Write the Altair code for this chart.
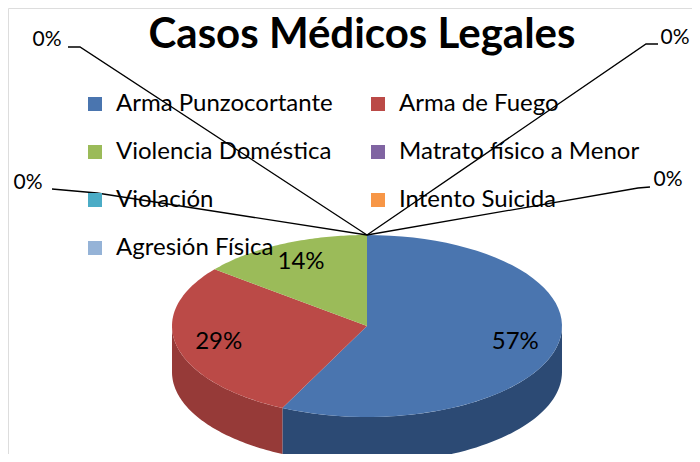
import altair as alt
import pandas as pd

# ---- data ----
title_text = ["Casos Médicos Legales"]
categories = ["Arma Punzocortante", "Arma de Fuego", "Violencia Doméstica",
              "Matrato físico a Menor", "Violación", "Intento Suicida", "Agresión Física"]
values = [4, 2, 1, 0, 0, 0, 0]

# ---- styles / layout ----
top_colors = ["#4A75AF", "#BB4A47", "#9BBB59", "#8064A2", "#4BACC6", "#F79646", "#95B3D7"]
side_colors = ["#2C4A74", "#963A38", "#6F8A3C", "#5C4878", "#357E92", "#B86C30", "#6C84A3"]
CX, CY, RX, RY, DEPTH = 367, 326, 195, 91, 46
N = 60
LABEL_R = 0.78
FONT = "Lato"
TITLE_X, TITLE_Y = 362, 35

# leader-line layout for the zero slices (page pixels)
label_x = [47, 675, 28, 668]
label_y = [40, 38, 183, 180]
elbow_x = [80, 646, 97, 638]
elbow_y = [47, 44, 193, 188]
end_x = [68, 658, 52, 650]
end_y = [47, 44, 189, 187]

df = pd.DataFrame({"cat": categories, "val": values, "k": list(range(len(categories)))})
zero_cats = [c for c, v in zip(categories, values) if v == 0]
pos_df = pd.DataFrame({"cat": zero_cats, "lx": label_x, "ly": label_y,
                       "kx": elbow_x, "ky": elbow_y, "ex": end_x, "ey": end_y})
title_df = pd.DataFrame({"title": title_text})

xs = alt.Scale(domain=[0, 700], range=[-8, 692], zero=False, nice=False)
ys = alt.Scale(domain=[0, 462], range=[-8, 454], zero=False, nice=False)
X = alt.X("px:Q", scale=xs, axis=None)
Y = alt.Y("py:Q", scale=ys, axis=None)

base = alt.Chart(df).transform_window(
    cum="sum(val)", sort=[alt.SortField("k")], frame=[None, 0]
).transform_joinaggregate(
    total="sum(val)"
).transform_calculate(
    a0="2*PI*(datum.cum - datum.val)/datum.total",
    a1="2*PI*datum.cum/datum.total",
).transform_calculate(
    mid="(datum.a0 + datum.a1)/2",
    pct="format(datum.val/datum.total, '.0%')",
)

# side walls (front half only)
side = base.transform_filter("datum.val > 0").transform_calculate(
    s="max(datum.a0, PI/2)", e="min(datum.a1, 3*PI/2)"
).transform_filter("datum.s < datum.e").transform_calculate(
    j=f"sequence(0, {2 * N + 2})"
).transform_flatten(["j"]).transform_calculate(
    t=f"datum.j <= {N} ? datum.j/{N} : ({2 * N + 1} - datum.j)/{N}"
).transform_calculate(
    ang="datum.s + (datum.e - datum.s)*datum.t"
).transform_calculate(
    px=f"{CX} + {RX}*sin(datum.ang)",
    py=f"{CY} - {RY}*cos(datum.ang) + (datum.j > {N} ? {DEPTH} : 0)",
).mark_line(filled=True, interpolate="linear-closed", strokeWidth=0).encode(
    x=X, y=Y,
    order=alt.Order("j:Q"),
    color=alt.Color("cat:N", scale=alt.Scale(domain=categories, range=side_colors), legend=None),
)

# top faces
top = base.transform_filter("datum.val > 0").transform_calculate(
    j=f"sequence(-1, {N + 1})"
).transform_flatten(["j"]).transform_calculate(
    ang=f"datum.a0 + (datum.a1 - datum.a0)*max(datum.j, 0)/{N}"
).transform_calculate(
    px=f"datum.j < 0 ? {CX} : {CX} + {RX}*sin(datum.ang)",
    py=f"datum.j < 0 ? {CY} : {CY} - {RY}*cos(datum.ang)",
).mark_line(filled=True, interpolate="linear-closed", strokeWidth=0).encode(
    x=X, y=Y,
    order=alt.Order("j:Q"),
    color=alt.Color(
        "cat:N",
        scale=alt.Scale(domain=categories, range=top_colors),
        legend=alt.Legend(
            title=None, orient="none", legendX=75, legendY=84, columns=2,
            direction="horizontal",
            symbolType="square", symbolSize=196, symbolStrokeWidth=0, symbolOpacity=1,
            labelFont=FONT, labelFontSize=24, labelColor="black", labelLimit=400,
            labelOffset=9, rowPadding=24, columnPadding=33, padding=0,
        ),
    ),
)

# zero-slice leader lines
callout = base.transform_filter("datum.val == 0").transform_lookup(
    lookup="cat",
    from_=alt.LookupData(data=pos_df, key="cat", fields=["lx", "ly", "kx", "ky", "ex", "ey"]),
)
leaders = callout.transform_calculate(
    j="sequence(0, 3)"
).transform_flatten(["j"]).transform_calculate(
    px=f"datum.j == 0 ? {CX} + {RX}*sin(datum.mid) : (datum.j == 1 ? datum.kx : datum.ex)",
    py=f"datum.j == 0 ? {CY} - {RY}*cos(datum.mid) : (datum.j == 1 ? datum.ky : datum.ey)",
).mark_line(color="black", strokeWidth=1.3).encode(
    x=X, y=Y, order=alt.Order("j:Q"), detail="cat:N"
)
zero_text = callout.transform_calculate(
    px="datum.lx", py="datum.ly"
).mark_text(font=FONT, fontSize=21, color="black", align="center", baseline="middle").encode(
    x=X, y=Y, text="pct:N"
)

# percentage labels
pct_text = base.transform_filter("datum.val > 0").transform_calculate(
    px=f"{CX} + {RX}*{LABEL_R}*sin(datum.mid)",
    py=f"{CY} - {RY}*{LABEL_R}*cos(datum.mid)",
).mark_text(font=FONT, fontSize=24, color="black", align="center", baseline="middle").encode(
    x=X, y=Y, text="pct:N"
)

# title
title = alt.Chart(title_df).transform_calculate(
    px=f"{TITLE_X}", py=f"{TITLE_Y}"
).mark_text(font=FONT, fontSize=42, fontWeight="bold", color="black",
            align="center", baseline="middle").encode(x=X, y=Y, text="title:N")

chart = alt.layer(side, top, leaders, pct_text, zero_text, title).resolve_scale(
    color="independent"
).properties(
    width=684, height=446, autosize="none", padding=0,
).configure_view(stroke=None).configure(background="white")

chart.save("out.html", embed_options={"renderer": "svg", "actions": False})
